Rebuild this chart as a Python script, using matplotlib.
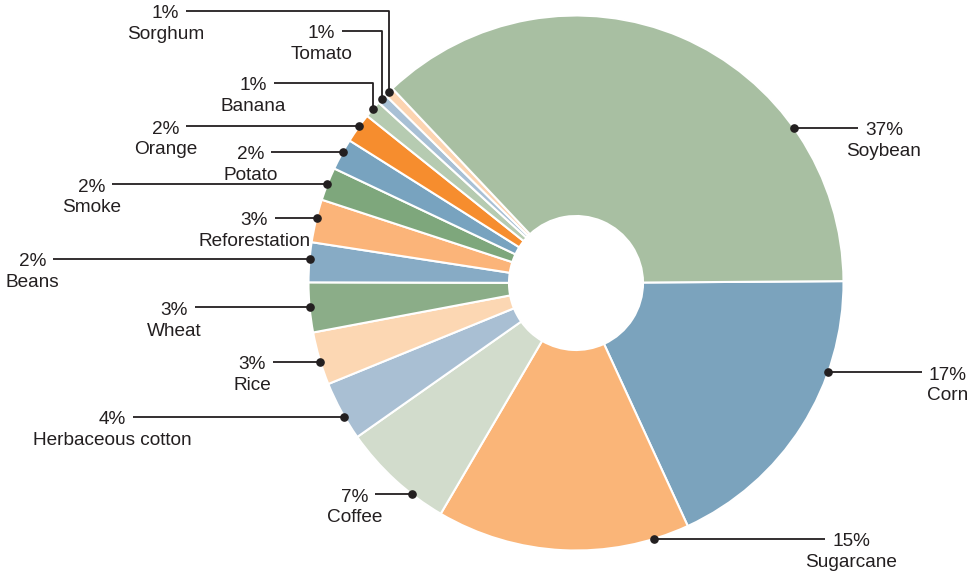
import numpy as np
import matplotlib
matplotlib.use("Agg")
import matplotlib.pyplot as plt

plt.rcParams['font.family'] = ['Liberation Sans', 'DejaVu Sans']

# ---------------- data ----------------
crops = ["Corn", "Sugarcane", "Coffee", "Herbaceous cotton", "Rice", "Wheat",
         "Beans", "Reforestation", "Smoke", "Potato", "Orange", "Banana",
         "Tomato", "Sorghum", "Soybean"]
shares = [18.25, 15.3, 6.8, 3.6, 3.2, 3.0, 2.4, 2.6, 2.0, 1.9, 1.8, 1.05,
          0.6, 0.57, 36.93]
pct_labels = ["17%", "15%", "7%", "4%", "3%", "3%", "2%", "3%", "2%", "2%",
              "2%", "1%", "1%", "1%", "37%"]
colors = ["#7ba3bd", "#fab578", "#d2dccc", "#a9bfd3", "#fcd7b3", "#8bad88",
          "#87abc5", "#fbb479", "#7ea77c", "#78a3bf", "#f68d2e", "#b6cbb1",
          "#a8c0d5", "#fcd4b1", "#a8bfa2"]

# ---------------- layout (pixel space) ----------------
W, H = 973, 574
cx, cy = 576, 283
R_out, R_in = 267.5, 67
label_line_y = [372, 539, 494, 417, 361.5, 307.3, 259, 217.5, 184, 151.5,
                126, 82.7, 31, 11, 127.5]
label_end_x = [922, 825, 375, 133, 273, 195, 53, 275, 112, 271, 186, 274,
               342, 186, 858]
label_side = [1, 1, -1, -1, -1, -1, -1, -1, -1, -1, -1, -1, -1, -1, 1]
elbow = [False] * 11 + [True, True, True, False]

fig = plt.figure(figsize=(W / 100, H / 100), dpi=100)
ax = fig.add_axes([0, 0, 1, 1])

wedges, _ = ax.pie(shares, colors=colors, startangle=-0.4, counterclock=True,
                   center=(cx, cy), radius=R_out,
                   wedgeprops=dict(width=R_out - R_in, edgecolor="white",
                                   linewidth=1.5))
ax.set_xlim(0, W)
ax.set_ylim(H, 0)
ax.set_aspect("equal")
ax.axis("off")

txt_color = "#231f20"
fs = 13.7
renderer = fig.canvas.get_renderer()
inv = ax.transData.inverted()

for i, w in enumerate(wedges):
    mid = np.deg2rad((w.theta1 + w.theta2) / 2)
    side = label_side[i]
    ly = label_line_y[i]
    xe = label_end_x[i]
    if elbow[i]:
        dx = cx + R_out * np.cos(mid)
        dy = cy + R_out * np.sin(mid)
        xs = [xe, dx, dx]
        ys = [ly, ly, dy]
    else:
        dy = ly
        dx = cx + side * np.sqrt(max(R_out ** 2 - (ly - cy) ** 2, 0))
        xs = [xe, dx]
        ys = [ly, ly]
    ax.plot(xs, ys, color="#231f20", lw=1.3, solid_capstyle="butt", zorder=5)
    ax.plot([dx], [dy], "o", color="#231f20", ms=5.2, zorder=6)

    gap = 7
    if side < 0:
        t = ax.text(xe - gap, ly + 7.5, pct_labels[i], ha="right", va="baseline",
                    fontsize=fs, color=txt_color)
    else:
        t = ax.text(xe + gap, ly + 7.5, pct_labels[i], ha="left", va="baseline",
                    fontsize=fs, color=txt_color)
    bb = t.get_window_extent(renderer)
    (x0, _), (x1, _) = inv.transform([(bb.x0, bb.y0), (bb.x1, bb.y1)])
    ax.text((x0 + x1) / 2, ly + 28.3, crops[i], ha="center", va="baseline",
            fontsize=fs, color=txt_color)

fig.savefig("out.png", dpi=100, facecolor="white")
